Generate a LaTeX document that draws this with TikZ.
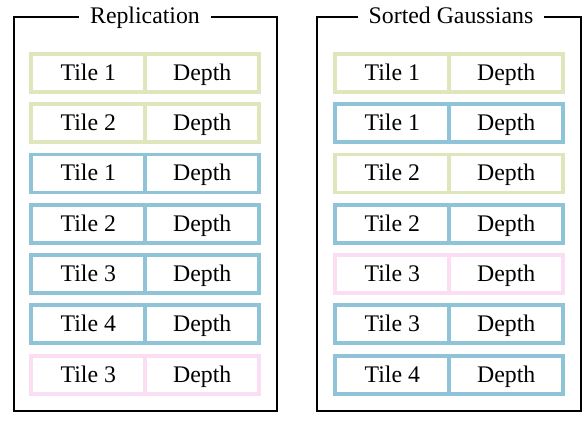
\documentclass[tikz,border=0pt]{standalone}
\usepackage{fontspec}
\setmainfont{Liberation Serif}
\usetikzlibrary{positioning}
\definecolor{tilegreen}{RGB}{222,230,188}
\definecolor{tileblue}{RGB}{142,195,216}
\definecolor{tilepink}{RGB}{252,222,244}

\begin{document}
\begin{tikzpicture}[
    x=1pt, y=-1pt,
    every node/.style={font=\fontsize{23.8}{28}\selectfont},
    cell/.style={draw, line width=3.8pt, outer sep=0pt, inner sep=0pt,
                 minimum width=114pt, minimum height=38pt,
                 text height=15.5pt, text depth=0.5pt},
    gcell/.style={cell, draw=tilegreen},
    bcell/.style={cell, draw=tileblue},
    pcell/.style={cell, draw=tilepink},
    frame/.style={draw=black, line width=2pt},
    title/.style={fill=white, inner xsep=11pt, inner ysep=1pt, anchor=base},
]
\useasboundingbox (0,0) rectangle (588,420);

% === LEFT PANEL: Replication ===
\draw[frame] (13.5,16.7) rectangle (277.3,411);
\node[title] (reptitle) at (145,24) {Replication};

\node[gcell] (r1t) at (88.3,72.8) {Tile 1};
\node[gcell, right=0pt of r1t] (r1d) {Depth};
\node[gcell] (r2t) at (88.3,123.1) {Tile 2};
\node[gcell, right=0pt of r2t] (r2d) {Depth};
\node[bcell] (r3t) at (88.3,173.4) {Tile 1};
\node[bcell, right=0pt of r3t] (r3d) {Depth};
\node[bcell] (r4t) at (88.3,223.7) {Tile 2};
\node[bcell, right=0pt of r4t] (r4d) {Depth};
\node[bcell] (r5t) at (88.3,274.0) {Tile 3};
\node[bcell, right=0pt of r5t] (r5d) {Depth};
\node[bcell] (r6t) at (88.3,324.3) {Tile 4};
\node[bcell, right=0pt of r6t] (r6d) {Depth};
\node[pcell] (r7t) at (88.3,374.6) {Tile 3};
\node[pcell, right=0pt of r7t] (r7d) {Depth};

% === RIGHT PANEL: Sorted Gaussians ===
\draw[frame] (317,16.7) rectangle (581,411);
\node[title] (sorttitle) at (451,24) {Sorted Gaussians};

\node[gcell] (s1t) at (392.3,72.8) {Tile 1};
\node[gcell, right=0pt of s1t] (s1d) {Depth};
\node[bcell] (s2t) at (392.3,123.1) {Tile 1};
\node[bcell, right=0pt of s2t] (s2d) {Depth};
\node[gcell] (s3t) at (392.3,173.4) {Tile 2};
\node[gcell, right=0pt of s3t] (s3d) {Depth};
\node[bcell] (s4t) at (392.3,223.7) {Tile 2};
\node[bcell, right=0pt of s4t] (s4d) {Depth};
\node[pcell] (s5t) at (392.3,274.0) {Tile 3};
\node[pcell, right=0pt of s5t] (s5d) {Depth};
\node[bcell] (s6t) at (392.3,324.3) {Tile 3};
\node[bcell, right=0pt of s6t] (s6d) {Depth};
\node[bcell] (s7t) at (392.3,374.6) {Tile 4};
\node[bcell, right=0pt of s7t] (s7d) {Depth};

\end{tikzpicture}
\end{document}
